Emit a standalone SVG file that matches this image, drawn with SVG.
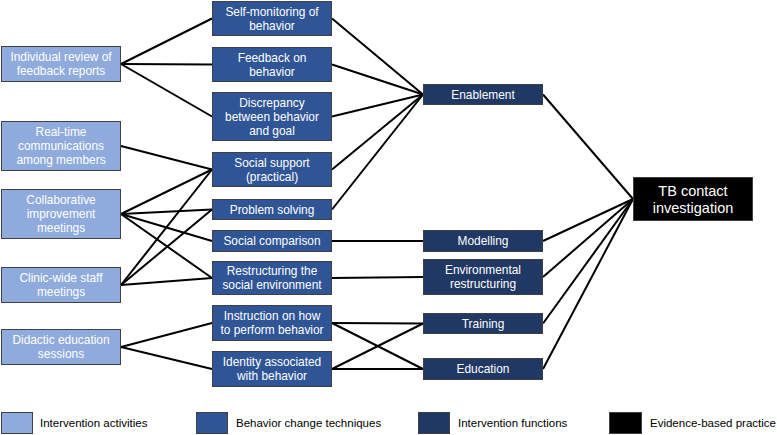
<svg xmlns="http://www.w3.org/2000/svg" width="777" height="435" viewBox="0 0 777 435">
<style>
.a{fill:#8faadc;stroke:#404040;stroke-width:1}
.b{fill:#2f5597;stroke:#404040;stroke-width:1}
.c{fill:#1f3864;stroke:#404040;stroke-width:1}
.d{fill:#000;stroke:#404040;stroke-width:1}
text{font-family:"Liberation Sans",Arial,sans-serif;font-size:11.9px;fill:#fff;text-anchor:middle}
.tb{font-size:14.5px}
.lg{fill:#000;text-anchor:start;font-size:11.5px}
#connectors line{stroke:#000;stroke-width:2}
</style>
<rect width="777" height="435" fill="#fff"/>
<g id="connectors">
<line x1="121" y1="64" x2="212" y2="18.5"/>
<line x1="121" y1="64" x2="212" y2="64.5"/>
<line x1="121" y1="64" x2="212" y2="116.5"/>
<line x1="121" y1="146" x2="212" y2="169.5"/>
<line x1="121" y1="214" x2="212" y2="169.5"/>
<line x1="121" y1="214" x2="212" y2="209.5"/>
<line x1="121" y1="214" x2="212" y2="241"/>
<line x1="121" y1="214" x2="212" y2="278"/>
<line x1="121" y1="285" x2="212" y2="169.5"/>
<line x1="121" y1="285" x2="212" y2="209.5"/>
<line x1="121" y1="285" x2="212" y2="278"/>
<line x1="121" y1="347" x2="212" y2="323"/>
<line x1="121" y1="347" x2="212" y2="369"/>
<line x1="332" y1="18.5" x2="423" y2="94.5"/>
<line x1="332" y1="64.5" x2="423" y2="94.5"/>
<line x1="332" y1="116.5" x2="423" y2="94.5"/>
<line x1="332" y1="169.5" x2="423" y2="94.5"/>
<line x1="332" y1="209.5" x2="423" y2="94.5"/>
<line x1="332" y1="241" x2="423" y2="241"/>
<line x1="332" y1="278" x2="423" y2="277"/>
<line x1="332" y1="323" x2="423" y2="323.5"/>
<line x1="332" y1="323" x2="423" y2="369"/>
<line x1="332" y1="369" x2="423" y2="323.5"/>
<line x1="332" y1="369" x2="423" y2="369"/>
<line x1="543" y1="94.5" x2="633" y2="199"/>
<line x1="543" y1="241" x2="633" y2="199"/>
<line x1="543" y1="277" x2="633" y2="199"/>
<line x1="543" y1="323.5" x2="633" y2="199"/>
<line x1="543" y1="369" x2="633" y2="199"/>
</g>
<g id="a1"><rect class="a" x="1.5" y="46.5" width="119" height="35"/><text x="61" y="61.2">Individual review of</text><text x="61" y="75.2">feedback reports</text></g>
<g id="a2"><rect class="a" x="1.5" y="121.5" width="119" height="49"/><text x="61" y="136.2">Real-time</text><text x="61" y="150.2">communications</text><text x="61" y="164.2">among members</text></g>
<g id="a3"><rect class="a" x="1.5" y="189.5" width="119" height="49"/><text x="61" y="204.2">Collaborative</text><text x="61" y="218.2">improvement</text><text x="61" y="232.2">meetings</text></g>
<g id="a4"><rect class="a" x="1.5" y="267.5" width="119" height="35"/><text x="61" y="282.2">Clinic-wide staff</text><text x="61" y="296.2">meetings</text></g>
<g id="a5"><rect class="a" x="1.5" y="329.5" width="119" height="35"/><text x="61" y="344.2">Didactic education</text><text x="61" y="358.2">sessions</text></g>
<g id="b1"><rect class="b" x="212.5" y="1.5" width="119" height="34"/><text x="272" y="15.7">Self-monitoring of</text><text x="272" y="29.7">behavior</text></g>
<g id="b2"><rect class="b" x="212.5" y="47.5" width="119" height="34"/><text x="272" y="61.7">Feedback on</text><text x="272" y="75.7">behavior</text></g>
<g id="b3"><rect class="b" x="212.5" y="92.5" width="119" height="48"/><text x="272" y="106.7">Discrepancy</text><text x="272" y="120.7">between behavior</text><text x="272" y="134.7">and goal</text></g>
<g id="b4"><rect class="b" x="212.5" y="152.5" width="119" height="34"/><text x="272" y="166.7">Social support</text><text x="272" y="180.7">(practical)</text></g>
<g id="b5"><rect class="b" x="212.5" y="199.5" width="119" height="20"/><text x="272" y="213.7">Problem solving</text></g>
<g id="b6"><rect class="b" x="212.5" y="230.5" width="119" height="21"/><text x="272" y="245.2">Social comparison</text></g>
<g id="b7"><rect class="b" x="212.5" y="261.5" width="119" height="33"/><text x="272" y="275.2">Restructuring the</text><text x="272" y="289.2">social environment</text></g>
<g id="b8"><rect class="b" x="212.5" y="305.5" width="119" height="35"/><text x="272" y="320.2">Instruction on how</text><text x="272" y="334.2">to perform behavior</text></g>
<g id="b9"><rect class="b" x="212.5" y="351.5" width="119" height="35"/><text x="272" y="366.2">Identity associated</text><text x="272" y="380.2">with behavior</text></g>
<g id="c1"><rect class="c" x="423.5" y="84.5" width="119" height="20"/><text x="483" y="98.7">Enablement</text></g>
<g id="c2"><rect class="c" x="423.5" y="230.5" width="119" height="21"/><text x="483" y="245.2">Modelling</text></g>
<g id="c3"><rect class="c" x="423.5" y="259.5" width="119" height="35"/><text x="483" y="274.2">Environmental</text><text x="483" y="288.2">restructuring</text></g>
<g id="c4"><rect class="c" x="423.5" y="313.5" width="119" height="20"/><text x="483" y="327.7">Training</text></g>
<g id="c5"><rect class="c" x="423.5" y="358.5" width="119" height="21"/><text x="483" y="373.2">Education</text></g>
<g id="tb"><rect class="d" x="633.5" y="177.5" width="119" height="43"/><text class="tb" x="693" y="196">TB contact</text><text class="tb" x="693" y="212.5">investigation</text></g>
<g id="legend">
<rect class="a" x="1.5" y="412.5" width="31" height="21"/><text class="lg" x="40" y="427">Intervention activities</text>
<rect class="b" x="196.5" y="412.5" width="31" height="21"/><text class="lg" x="236" y="427">Behavior change techniques</text>
<rect class="c" x="418.5" y="412.5" width="31" height="21"/><text class="lg" x="458" y="427">Intervention functions</text>
<rect class="d" x="609.5" y="412.5" width="32" height="21"/><text class="lg" x="650" y="427">Evidence-based practice</text>
</g>
</svg>
